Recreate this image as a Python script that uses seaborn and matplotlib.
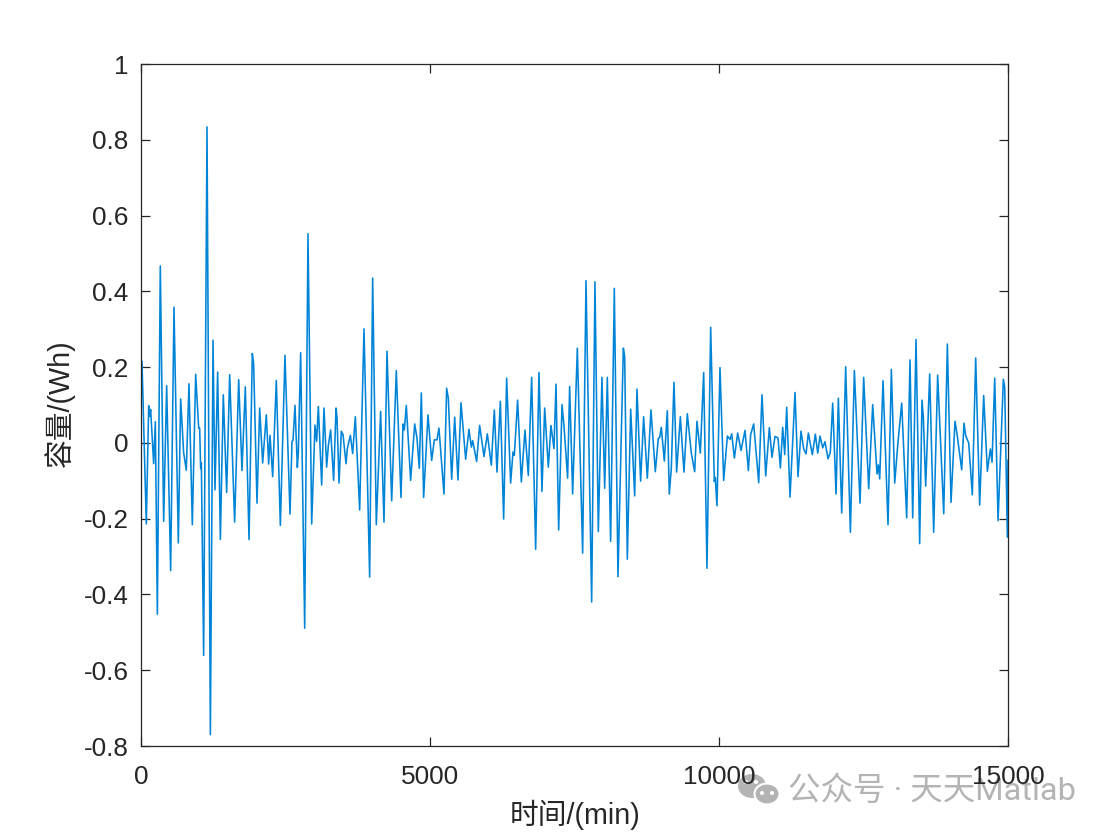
import numpy as np
import pandas as pd
import seaborn as sns
import matplotlib.pyplot as plt
from matplotlib.patches import Ellipse

# turning points of the curve
time_min = [0, 17, 92, 133, 150, 167, 219, 248, 283, 334, 392, 444, 513, 571, 646, 686, 738, 784, 830, 888,
            946, 998, 1015, 1032, 1044, 1084, 1142, 1200, 1246, 1280, 1326, 1373, 1424, 1482, 1534, 1620, 1690, 1747, 1805, 1869,
            1926, 1949, 2007, 2053, 2105, 2168, 2209, 2232, 2278, 2341, 2411, 2491, 2578, 2612, 2630, 2664, 2705, 2722, 2762, 2832,
            2889, 2953, 3010, 3039, 3068, 3126, 3166, 3212, 3241, 3281, 3333, 3374, 3391, 3426, 3466, 3495, 3547, 3570, 3622, 3662,
            3708, 3783, 3858, 3956, 4008, 4071, 4146, 4204, 4256, 4337, 4417, 4498, 4533, 4556, 4590, 4665, 4735, 4775, 4815, 4850,
            4890, 4965, 5029, 5075, 5121, 5155, 5242, 5288, 5317, 5375, 5427, 5484, 5536, 5617, 5674, 5715, 5738, 5807, 5859, 5934,
            5992, 6061, 6113, 6159, 6217, 6274, 6326, 6395, 6436, 6459, 6516, 6580, 6643, 6701, 6759, 6828, 6885, 6937, 6984, 7047,
            7093, 7145, 7180, 7226, 7284, 7318, 7381, 7416, 7468, 7549, 7641, 7699, 7797, 7854, 7912, 7975, 8022, 8068, 8125, 8189,
            8252, 8345, 8368, 8414, 8472, 8541, 8581, 8644, 8696, 8760, 8823, 8898, 8950, 8973, 9002, 9054, 9106, 9140, 9175, 9221,
            9267, 9331, 9394, 9452, 9521, 9579, 9619, 9677, 9735, 9792, 9856, 9919, 9936, 9965, 10017, 10081, 10145, 10191, 10220, 10266,
            10323, 10381, 10450, 10508, 10548, 10600, 10687, 10744, 10808, 10871, 10917, 10969, 11021, 11062, 11102, 11137, 11171, 11229, 11315, 11367,
            11419, 11465, 11506, 11546, 11615, 11667, 11708, 11748, 11794, 11834, 11886, 11926, 11967, 12025, 12065, 12123, 12192, 12273, 12342, 12440,
            12503, 12590, 12659, 12734, 12757, 12780, 12838, 12924, 12982, 13040, 13092, 13161, 13247, 13305, 13351, 13409, 13472, 13512, 13535, 13576,
            13645, 13714, 13783, 13888, 13951, 14014, 14083, 14118, 14199, 14239, 14268, 14320, 14383, 14441, 14510, 14579, 14643, 14695, 14724, 14770,
            14828, 14920, 14943, 14989, 15000]
capacity = [0.094, 0.216, -0.214, 0.098, 0.070, 0.088, -0.055, 0.056, -0.452, 0.467, -0.207, 0.151, -0.337, 0.358, -0.264, 0.116, -0.026, -0.072, 0.156, -0.216,
            0.181, 0.039, 0.039, -0.068, -0.053, -0.561, 0.834, -0.770, 0.271, -0.124, 0.187, -0.255, 0.127, -0.131, 0.180, -0.209, 0.167, -0.073, 0.148, -0.255,
            0.236, 0.208, -0.159, 0.092, -0.053, 0.074, -0.056, 0.020, -0.089, 0.165, -0.218, 0.231, -0.188, 0.004, 0.007, 0.099, -0.065, -0.026, 0.238, -0.489,
            0.552, -0.214, 0.047, 0.004, 0.096, -0.111, 0.092, -0.064, -0.007, 0.034, -0.099, 0.092, 0.067, -0.106, 0.031, 0.022, -0.055, -0.015, 0.020, -0.028,
            0.069, -0.177, 0.301, -0.354, 0.435, -0.216, 0.083, -0.209, 0.242, -0.153, 0.191, -0.144, 0.050, 0.034, 0.099, -0.099, 0.050, 0.012, -0.067, 0.132,
            -0.144, 0.074, -0.046, 0.008, 0.008, 0.039, -0.135, 0.144, 0.118, -0.096, 0.068, -0.098, 0.106, -0.043, 0.036, -0.011, 0.006, -0.049, 0.046, -0.036,
            0.024, -0.059, 0.087, -0.077, 0.110, -0.201, 0.171, -0.106, -0.024, -0.033, 0.113, -0.103, 0.034, -0.086, 0.173, -0.281, 0.186, -0.128, 0.092, -0.064,
            0.046, -0.015, 0.155, -0.230, 0.101, 0.045, -0.093, 0.149, -0.135, 0.250, -0.291, 0.428, -0.420, 0.425, -0.234, 0.173, -0.120, 0.173, -0.260, 0.408,
            -0.353, 0.250, 0.228, -0.307, 0.089, -0.140, 0.142, -0.101, 0.069, -0.093, 0.087, -0.076, 0.012, 0.014, 0.041, -0.048, 0.085, -0.135, -0.067, 0.160,
            -0.077, 0.069, -0.077, 0.077, -0.027, -0.076, 0.057, -0.027, 0.186, -0.331, 0.305, -0.102, -0.091, -0.166, 0.199, -0.099, 0.018, 0.009, 0.024, -0.040,
            0.026, -0.020, 0.033, -0.073, 0.022, 0.050, -0.105, 0.127, -0.087, 0.040, -0.038, 0.017, 0.013, -0.066, 0.041, -0.031, 0.094, -0.143, 0.133, -0.089,
            0.031, -0.016, -0.029, 0.026, -0.031, 0.023, -0.027, 0.018, -0.013, 0.003, -0.042, -0.025, 0.105, -0.135, 0.118, -0.185, 0.201, -0.236, 0.191, -0.159,
            0.173, -0.121, 0.101, -0.082, -0.058, -0.095, 0.164, -0.216, 0.194, -0.106, -0.006, 0.105, -0.198, 0.219, -0.198, 0.273, -0.266, 0.113, 0.068, -0.114,
            0.182, -0.236, 0.179, -0.187, 0.261, -0.157, 0.057, 0.024, -0.071, 0.052, 0.019, 0.000, -0.137, 0.224, -0.164, 0.125, -0.075, -0.016, -0.051, 0.171,
            -0.205, 0.168, 0.147, -0.249, -0.045]
x_ticks = [0, 5000, 10000, 15000]
y_ticks = [-0.8, -0.6, -0.4, -0.2, 0, 0.2, 0.4, 0.6, 0.8, 1]
y_labels = ['-0.8', '-0.6', '-0.4', '-0.2', '0', '0.2', '0.4', '0.6', '0.8', '1']

sns.set_theme(style="white")
plt.rcParams['font.family'] = ['Liberation Sans', 'Noto Sans CJK SC']
plt.rcParams['axes.unicode_minus'] = False

W, H = 1112, 834
ink = '#262626'
fig = plt.figure(figsize=(W / 100, H / 100), dpi=100)
ax = fig.add_axes([141 / W, 1 - 746 / H, 867 / W, 682 / H])

df = pd.DataFrame({'t': time_min, 'c': capacity})
sns.lineplot(data=df, x='t', y='c', estimator=None, sort=False, color='#0084d8', linewidth=1.15, ax=ax)
ax.lines[0].set_solid_joinstyle('round')

ax.set_xlim(0, 15000)
ax.set_ylim(-0.8, 1)
ax.set_xticks(x_ticks)
ax.set_yticks(y_ticks)
ax.set_yticklabels(y_labels)
ax.tick_params(direction='in', length=6.5, width=0.9, color=ink, labelcolor=ink, labelsize=18.8,
               top=True, right=True, left=True, bottom=True)
ax.tick_params(axis='x', pad=13.5)
ax.tick_params(axis='y', pad=9)
for s in ax.spines.values():
    s.set_color(ink)
    s.set_linewidth(0.9)
ax.set_xlabel('')
ax.set_ylabel('')

fig.text(575 / W, 1 - 815 / H, '时间/(min)', fontsize=20.7, color=ink, ha='center', va='center')
fig.text(60 / W, 1 - 403 / H, '容量/(Wh)', fontsize=20.7, color=ink, rotation=90, ha='center', va='center')

# watermark
grey = '#b4b4b4'
overlay = fig.add_axes([0, 0, 1, 1], zorder=-1)
overlay.set_xlim(0, W)
overlay.set_ylim(H, 0)
overlay.axis('off')
ax.set_zorder(1)
ax.patch.set_alpha(0)
overlay.add_patch(Ellipse((752, 786), 28, 24, color=grey, lw=0))
overlay.add_patch(Ellipse((767, 794), 25, 21, facecolor=grey, edgecolor='white', lw=1.5))
for px, py in [(746, 782), (756, 782)]:
    overlay.add_patch(Ellipse((px, py), 4, 4, color='white', lw=0))
for px, py in [(762, 793), (772, 793)]:
    overlay.add_patch(Ellipse((px, py), 4, 4, color='white', lw=0))
overlay.text(788, 791, '公众号 · 天天Matlab', fontsize=23.4, color=grey, ha='left', va='center',
             family=['Roboto', 'Noto Sans CJK SC'])

fig.savefig('out.png', dpi=100)
